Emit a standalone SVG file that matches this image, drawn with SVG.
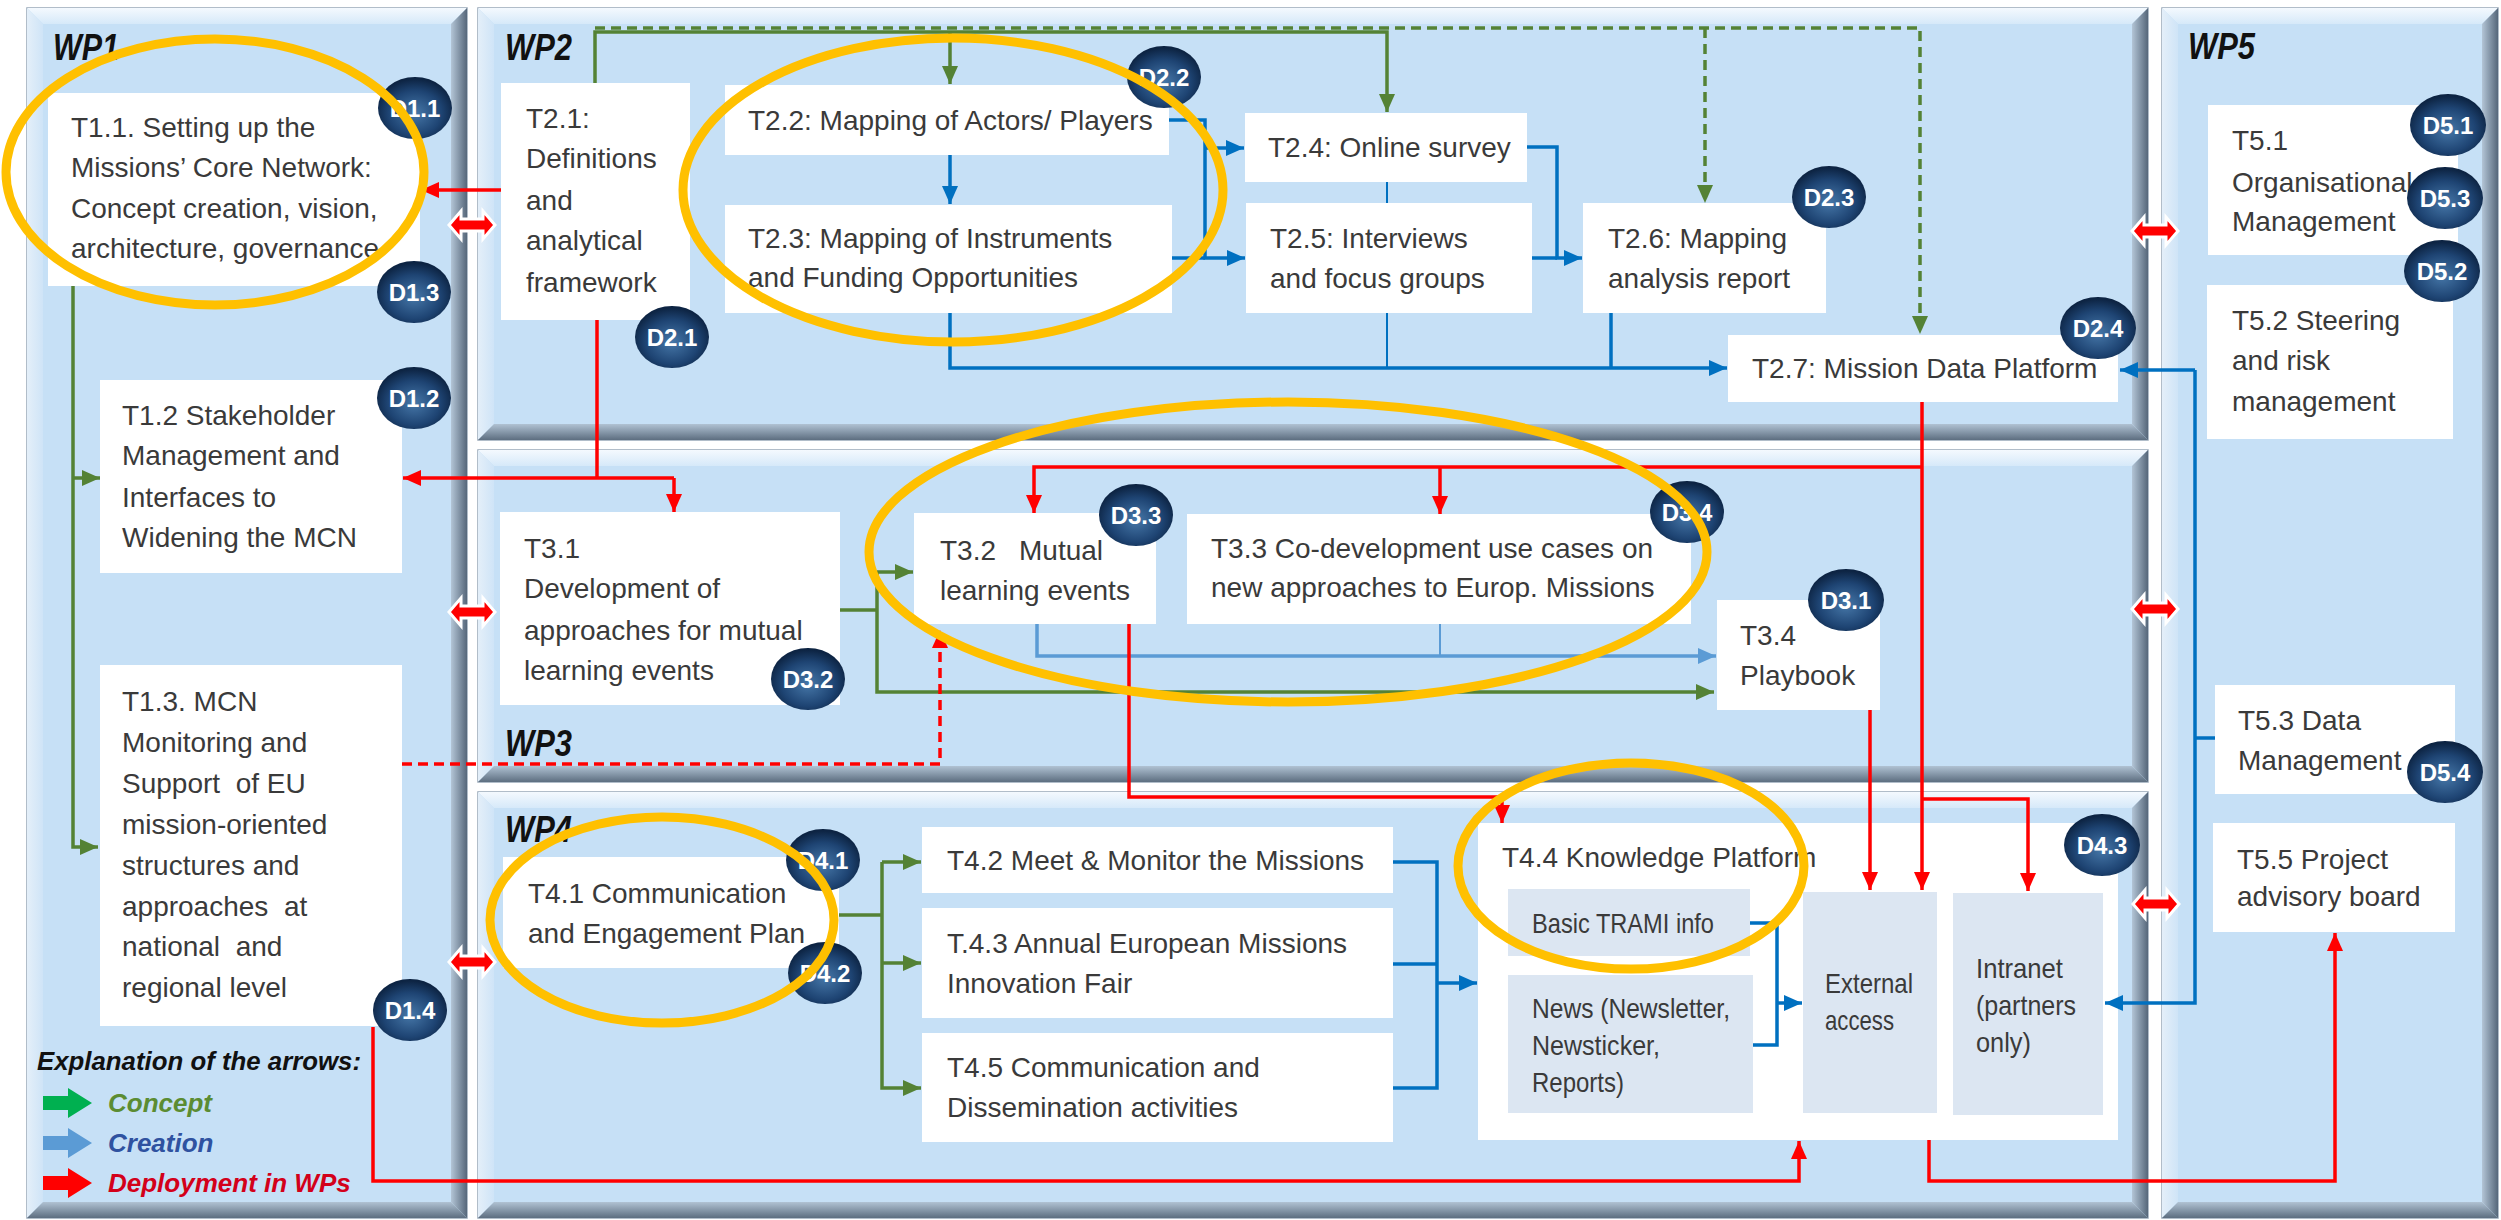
<svg xmlns="http://www.w3.org/2000/svg" width="2501" height="1220" viewBox="0 0 2501 1220">
  <style>
    .base { fill: #C6E0F6; stroke: #98A8B8; stroke-width: 1.5; }
    .bt { fill: url(#bevTop); }
    .bl { fill: url(#bevLeft); }
    .br { fill: url(#bevRight); }
    .bb { fill: url(#bevBottom); }
    .box { fill: #FFFFFF; }
    .sub { fill: #DCE6F2; }
    .t { font-family: "Liberation Sans", Arial, sans-serif; font-size: 28px; fill: #3A3A3A; }
    .wp { font-family: "Liberation Sans", Arial, sans-serif; font-size: 36px; font-weight: bold; font-style: italic; fill: #111111; }
    .lg { font-family: "Liberation Sans", Arial, sans-serif; font-size: 26px; font-weight: bold; font-style: italic; }
    .badge ellipse { fill: url(#badgeGrad); }
    .badge text { font-family: "Liberation Sans", Arial, sans-serif; font-size: 24px; font-weight: bold; fill: #FFFFFF; text-anchor: middle; }
    .g { fill: none; stroke: #548235; stroke-width: 3.5; }
    .b { fill: none; stroke: #0070C0; stroke-width: 3.5; }
    .bthin { fill: none; stroke: #0070C0; stroke-width: 2; }
    .lb { fill: none; stroke: #5B9BD5; stroke-width: 3.5; }
    .lbthin { fill: none; stroke: #5B9BD5; stroke-width: 2; }
    .r { fill: none; stroke: #FF0000; stroke-width: 3.5; }
    .dash { stroke-dasharray: 10 6; }
    .dbl { fill: #FF0000; stroke: #FFFFFF; stroke-width: 3; }
    .hl { fill: none; stroke: #FFC000; stroke-width: 9; }
  </style>
  <defs>
    <linearGradient id="bevTop" x1="0" y1="0" x2="0" y2="1">
      <stop offset="0" stop-color="#F4F9FE"/>
      <stop offset="1" stop-color="#D6E9F9"/>
    </linearGradient>
    <linearGradient id="bevLeft" x1="0" y1="0" x2="1" y2="0">
      <stop offset="0" stop-color="#E4EFF9"/>
      <stop offset="1" stop-color="#CFE4F7"/>
    </linearGradient>
    <linearGradient id="bevRight" x1="0" y1="0" x2="1" y2="0">
      <stop offset="0" stop-color="#B3C5D6"/>
      <stop offset="1" stop-color="#56677A"/>
    </linearGradient>
    <linearGradient id="bevBottom" x1="0" y1="0" x2="0" y2="1">
      <stop offset="0" stop-color="#B0C2D3"/>
      <stop offset="1" stop-color="#5D6E80"/>
    </linearGradient>
    <radialGradient id="badgeGrad" cx="50%" cy="58%" r="55%">
      <stop offset="0" stop-color="#4677A8"/>
      <stop offset="0.65" stop-color="#1E4473"/>
      <stop offset="1" stop-color="#0D2443"/>
    </radialGradient>
    <marker id="mG" markerWidth="18" markerHeight="16" refX="18" refY="8" orient="auto" markerUnits="userSpaceOnUse">
      <path d="M0,0 L18,8 L0,16 z" fill="#548235"/>
    </marker>
    <marker id="mB" markerWidth="18" markerHeight="16" refX="18" refY="8" orient="auto" markerUnits="userSpaceOnUse">
      <path d="M0,0 L18,8 L0,16 z" fill="#0070C0"/>
    </marker>
    <marker id="mLB" markerWidth="18" markerHeight="16" refX="18" refY="8" orient="auto" markerUnits="userSpaceOnUse">
      <path d="M0,0 L18,8 L0,16 z" fill="#5B9BD5"/>
    </marker>
    <marker id="mR" markerWidth="18" markerHeight="16" refX="18" refY="8" orient="auto" markerUnits="userSpaceOnUse">
      <path d="M0,0 L18,8 L0,16 z" fill="#FF0000"/>
    </marker>
  </defs>

  <rect x="0" y="0" width="2501" height="1220" fill="#FFFFFF"/>

  <!-- Work package panels with bevelled frames -->
  <g id="panels">
    <g id="wp1-panel">
      <rect class="base" x="27" y="8" width="440" height="1210"/>
      <polygon class="bt" points="27,8 467,8 451,24 43,24"/>
      <polygon class="bl" points="27,8 43,24 43,1202 27,1218"/>
      <polygon class="br" points="467,8 467,1218 451,1202 451,24"/>
      <polygon class="bb" points="27,1218 467,1218 451,1202 43,1202"/>
    </g>
    <g id="wp2-panel">
      <rect class="base" x="478" y="8" width="1670" height="432"/>
      <polygon class="bt" points="478,8 2148,8 2132,24 494,24"/>
      <polygon class="bl" points="478,8 494,24 494,424 478,440"/>
      <polygon class="br" points="2148,8 2148,440 2132,424 2132,24"/>
      <polygon class="bb" points="478,440 2148,440 2132,424 494,424"/>
    </g>
    <g id="wp3-panel">
      <rect class="base" x="478" y="450" width="1670" height="332"/>
      <polygon class="bt" points="478,450 2148,450 2132,466 494,466"/>
      <polygon class="bl" points="478,450 494,466 494,766 478,782"/>
      <polygon class="br" points="2148,450 2148,782 2132,766 2132,466"/>
      <polygon class="bb" points="478,782 2148,782 2132,766 494,766"/>
    </g>
    <g id="wp4-panel">
      <rect class="base" x="478" y="792" width="1670" height="426"/>
      <polygon class="bt" points="478,792 2148,792 2132,808 494,808"/>
      <polygon class="bl" points="478,792 494,808 494,1202 478,1218"/>
      <polygon class="br" points="2148,792 2148,1218 2132,1202 2132,808"/>
      <polygon class="bb" points="478,1218 2148,1218 2132,1202 494,1202"/>
    </g>
    <g id="wp5-panel">
      <rect class="base" x="2162" y="8" width="336" height="1210"/>
      <polygon class="bt" points="2162,8 2498,8 2482,24 2178,24"/>
      <polygon class="bl" points="2162,8 2178,24 2178,1202 2162,1218"/>
      <polygon class="br" points="2498,8 2498,1218 2482,1202 2482,24"/>
      <polygon class="bb" points="2162,1218 2498,1218 2482,1202 2178,1202"/>
    </g>
    <text class="wp" x="53" y="60" textLength="66" lengthAdjust="spacingAndGlyphs">WP1</text>
    <text class="wp" x="505" y="60" textLength="67" lengthAdjust="spacingAndGlyphs">WP2</text>
    <text class="wp" x="505" y="756" textLength="67" lengthAdjust="spacingAndGlyphs">WP3</text>
    <text class="wp" x="505" y="842" textLength="67" lengthAdjust="spacingAndGlyphs">WP4</text>
    <text class="wp" x="2188" y="59" textLength="67" lengthAdjust="spacingAndGlyphs">WP5</text>
  </g>

  <!-- WP1 tasks -->
  <g id="t1-1">
    <rect class="box" x="48" y="93" width="372" height="193"/>
    <text class="t"><tspan x="71" y="137">T1.1. Setting up the</tspan><tspan x="71" y="177">Missions’ Core Network:</tspan><tspan x="71" y="218">Concept creation, vision,</tspan><tspan x="71" y="258">architecture, governance</tspan></text>
  </g>
  <g id="t1-2">
    <rect class="box" x="100" y="380" width="302" height="193"/>
    <text class="t"><tspan x="122" y="425">T1.2 Stakeholder</tspan><tspan x="122" y="465">Management and</tspan><tspan x="122" y="507">Interfaces to</tspan><tspan x="122" y="547">Widening the MCN</tspan></text>
  </g>
  <g id="t1-3">
    <rect class="box" x="100" y="665" width="302" height="361"/>
    <text class="t" xml:space="preserve"><tspan x="122" y="711">T1.3. MCN</tspan><tspan x="122" y="752">Monitoring and</tspan><tspan x="122" y="793">Support  of EU</tspan><tspan x="122" y="834">mission-oriented</tspan><tspan x="122" y="875">structures and</tspan><tspan x="122" y="916">approaches  at</tspan><tspan x="122" y="956">national  and</tspan><tspan x="122" y="997">regional level</tspan></text>
  </g>

  <!-- Legend -->
  <g id="legend">
    <text class="lg" x="37" y="1070" fill="#111111" font-size="27" textLength="324" lengthAdjust="spacingAndGlyphs">Explanation of the arrows:</text>
    <polygon points="43,1096 68,1096 68,1088 92,1103 68,1118 68,1110 43,1110" fill="#00B050"/>
    <text class="lg" x="108" y="1112" fill="#5B8C32">Concept</text>
    <polygon points="43,1136 68,1136 68,1128 92,1143 68,1158 68,1150 43,1150" fill="#5B9BD5"/>
    <text class="lg" x="108" y="1152" fill="#2F52A0">Creation</text>
    <polygon points="43,1176 68,1176 68,1168 92,1183 68,1198 68,1190 43,1190" fill="#FF0000"/>
    <text class="lg" x="108" y="1192" fill="#D3001A">Deployment in WPs</text>
  </g>

  <!-- WP2 tasks -->
  <g id="t2-1">
    <rect class="box" x="501" y="83" width="189" height="237"/>
    <text class="t"><tspan x="526" y="128">T2.1:</tspan><tspan x="526" y="168">Definitions</tspan><tspan x="526" y="210">and</tspan><tspan x="526" y="250">analytical</tspan><tspan x="526" y="292">framework</tspan></text>
  </g>
  <g id="t2-2">
    <rect class="box" x="725" y="85" width="444" height="70"/>
    <text class="t" x="748" y="130">T2.2: Mapping of Actors/ Players</text>
  </g>
  <g id="t2-3">
    <rect class="box" x="725" y="205" width="447" height="108"/>
    <text class="t"><tspan x="748" y="248">T2.3: Mapping of Instruments</tspan><tspan x="748" y="287">and Funding Opportunities</tspan></text>
  </g>
  <g id="t2-4">
    <rect class="box" x="1245" y="113" width="282" height="69"/>
    <text class="t" x="1268" y="157">T2.4: Online survey</text>
  </g>
  <g id="t2-5">
    <rect class="box" x="1246" y="203" width="286" height="110"/>
    <text class="t"><tspan x="1270" y="248">T2.5: Interviews</tspan><tspan x="1270" y="288">and focus groups</tspan></text>
  </g>
  <g id="t2-6">
    <rect class="box" x="1583" y="203" width="243" height="110"/>
    <text class="t"><tspan x="1608" y="248">T2.6: Mapping</tspan><tspan x="1608" y="288">analysis report</tspan></text>
  </g>
  <g id="t2-7">
    <rect class="box" x="1728" y="335" width="390" height="67"/>
    <text class="t" x="1752" y="378">T2.7: Mission Data Platform</text>
  </g>

  <!-- WP3 tasks -->
  <g id="t3-1">
    <rect class="box" x="500" y="512" width="340" height="193"/>
    <text class="t"><tspan x="524" y="558">T3.1</tspan><tspan x="524" y="598">Development of</tspan><tspan x="524" y="640">approaches for mutual</tspan><tspan x="524" y="680">learning events</tspan></text>
  </g>
  <g id="t3-2">
    <rect class="box" x="914" y="513" width="242" height="111"/>
    <text class="t"><tspan x="940" y="560">T3.2</tspan><tspan x="1019" y="560">Mutual</tspan><tspan x="940" y="600">learning events</tspan></text>
  </g>
  <g id="t3-3">
    <rect class="box" x="1187" y="514" width="504" height="110"/>
    <text class="t"><tspan x="1211" y="558">T3.3 Co-development use cases on</tspan><tspan x="1211" y="597">new approaches to Europ. Missions</tspan></text>
  </g>
  <g id="t3-4">
    <rect class="box" x="1717" y="600" width="163" height="110"/>
    <text class="t"><tspan x="1740" y="645">T3.4</tspan><tspan x="1740" y="685">Playbook</tspan></text>
  </g>

  <!-- WP4 tasks -->
  <g id="t4-1">
    <rect class="box" x="503" y="857" width="336" height="111"/>
    <text class="t"><tspan x="528" y="903">T4.1 Communication</tspan><tspan x="528" y="943">and Engagement Plan</tspan></text>
  </g>
  <g id="t4-2">
    <rect class="box" x="922" y="827" width="471" height="66"/>
    <text class="t" x="947" y="870">T4.2 Meet &amp; Monitor the Missions</text>
  </g>
  <g id="t4-3">
    <rect class="box" x="922" y="908" width="471" height="110"/>
    <text class="t"><tspan x="947" y="953">T.4.3 Annual European Missions</tspan><tspan x="947" y="993">Innovation Fair</tspan></text>
  </g>
  <g id="t4-5">
    <rect class="box" x="922" y="1033" width="471" height="109"/>
    <text class="t"><tspan x="947" y="1077">T4.5 Communication and</tspan><tspan x="947" y="1117">Dissemination activities</tspan></text>
  </g>
  <g id="t4-4">
    <rect class="box" x="1478" y="823" width="640" height="317"/>
    <text class="t" x="1502" y="867">T4.4 Knowledge Platform</text>
    <g id="t4-4-basic">
      <rect class="sub" x="1508" y="889" width="242" height="67"/>
      <text class="t" x="1532" y="933" textLength="182" lengthAdjust="spacingAndGlyphs">Basic TRAMI info</text>
    </g>
    <g id="t4-4-news">
      <rect class="sub" x="1508" y="975" width="245" height="138"/>
      <text class="t"><tspan x="1532" y="1018" textLength="198" lengthAdjust="spacingAndGlyphs">News (Newsletter,</tspan><tspan x="1532" y="1055" textLength="128" lengthAdjust="spacingAndGlyphs">Newsticker,</tspan><tspan x="1532" y="1092" textLength="92" lengthAdjust="spacingAndGlyphs">Reports)</tspan></text>
    </g>
    <g id="t4-4-external">
      <rect class="sub" x="1803" y="892" width="134" height="221"/>
      <text class="t"><tspan x="1825" y="993" textLength="88" lengthAdjust="spacingAndGlyphs">External</tspan><tspan x="1825" y="1030" textLength="69" lengthAdjust="spacingAndGlyphs">access</tspan></text>
    </g>
    <g id="t4-4-intranet">
      <rect class="sub" x="1953" y="893" width="150" height="222"/>
      <text class="t"><tspan x="1976" y="978" textLength="87" lengthAdjust="spacingAndGlyphs">Intranet</tspan><tspan x="1976" y="1015" textLength="100" lengthAdjust="spacingAndGlyphs">(partners</tspan><tspan x="1976" y="1052" textLength="55" lengthAdjust="spacingAndGlyphs">only)</tspan></text>
    </g>
  </g>

  <!-- WP5 tasks -->
  <g id="t5-1">
    <rect class="box" x="2208" y="105" width="250" height="150"/>
    <text class="t"><tspan x="2232" y="150">T5.1</tspan><tspan x="2232" y="192">Organisational</tspan><tspan x="2232" y="231">Management</tspan></text>
  </g>
  <g id="t5-2">
    <rect class="box" x="2207" y="285" width="246" height="154"/>
    <text class="t"><tspan x="2232" y="330">T5.2 Steering</tspan><tspan x="2232" y="370">and risk</tspan><tspan x="2232" y="411">management</tspan></text>
  </g>
  <g id="t5-3">
    <rect class="box" x="2215" y="685" width="240" height="109"/>
    <text class="t"><tspan x="2238" y="730">T5.3 Data</tspan><tspan x="2238" y="770">Management</tspan></text>
  </g>
  <g id="t5-5">
    <rect class="box" x="2213" y="823" width="242" height="109"/>
    <text class="t"><tspan x="2237" y="869">T5.5 Project</tspan><tspan x="2237" y="906">advisory board</tspan></text>
  </g>

  <!-- Connectors -->
  <g id="connectors">
    <!-- concept (green) -->
    <path class="g" d="M73,286 V847 H98" marker-end="url(#mG)"/>
    <path class="g" d="M73,478 H100" marker-end="url(#mG)"/>
    <path class="g" d="M595,83 V32 H1387 V112" marker-end="url(#mG)"/>
    <path class="g" d="M950,32 V84" marker-end="url(#mG)"/>
    <path class="g dash" stroke-width="3" d="M595,28 H1920 V334" marker-end="url(#mG)"/>
    <path class="g dash" stroke-width="3" d="M1705,28 V203" marker-end="url(#mG)"/>
    <path class="g" d="M840,610 H877"/>
    <path class="g" d="M877,572 V692 H1714" marker-end="url(#mG)"/>
    <path class="g" d="M877,572 H913" marker-end="url(#mG)"/>
    <path class="g" d="M839,915 H882"/>
    <path class="g" d="M882,862 V1088 H921" marker-end="url(#mG)"/>
    <path class="g" d="M882,862 H921" marker-end="url(#mG)"/>
    <path class="g" d="M882,963 H921" marker-end="url(#mG)"/>

    <!-- creation (blue) -->
    <path class="b" d="M950,155 V204" marker-end="url(#mB)"/>
    <path class="b" d="M1169,120 H1205 V258 H1245" marker-end="url(#mB)"/>
    <path class="b" d="M1205,148 H1244" marker-end="url(#mB)"/>
    <path class="b" d="M1172,258 H1205"/>
    <path class="bthin" d="M1387,182 V203"/>
    <path class="b" d="M1527,147 H1557 V258 H1582" marker-end="url(#mB)"/>
    <path class="b" d="M1532,258 H1557"/>
    <path class="b" d="M950,313 V368 H1727" marker-end="url(#mB)"/>
    <path class="bthin" d="M1387,313 V368"/>
    <path class="b" d="M1611,313 V368"/>
    <path class="b" d="M2195,370 H2120" marker-end="url(#mB)"/>
    <path class="b" d="M2195,370 V1003 H2105" marker-end="url(#mB)"/>
    <path class="b" d="M2215,738 H2195"/>
    <path class="b" d="M1393,862 H1437 V1088 H1393"/>
    <path class="b" d="M1393,964 H1437"/>
    <path class="b" d="M1437,983 H1477" marker-end="url(#mB)"/>
    <path class="b" d="M1750,923 H1777 V1045 H1753"/>
    <path class="b" d="M1777,1003 H1802" marker-end="url(#mB)"/>
    <path class="lb" d="M1037,624 V656 H1716" marker-end="url(#mLB)"/>
    <path class="lbthin" d="M1440,624 V656"/>

    <!-- deployment (red) -->
    <path class="r" d="M501,190 H421" marker-end="url(#mR)"/>
    <path class="r" d="M597,320 V478"/>
    <path class="r" d="M674,478 H403" marker-end="url(#mR)"/>
    <path class="r" d="M674,478 V512" marker-end="url(#mR)"/>
    <path class="r" d="M1922,402 V890" marker-end="url(#mR)"/>
    <path class="r" d="M1922,467 H1034 V513" marker-end="url(#mR)"/>
    <path class="r" d="M1440,467 V514" marker-end="url(#mR)"/>
    <path class="r" d="M1922,799 H2028 V891" marker-end="url(#mR)"/>
    <path class="r" d="M1870,710 V890" marker-end="url(#mR)"/>
    <path class="r" d="M1129,624 V797 H1502 V823" marker-end="url(#mR)"/>
    <path class="r" d="M373,1027 V1181 H1799 V1141" marker-end="url(#mR)"/>
    <path class="r" d="M1929,1140 V1181 H2335 V933" marker-end="url(#mR)"/>
    <path class="r dash" stroke-width="3" d="M402,764 H940 V630" marker-end="url(#mR)"/>
  </g>

  <!-- Links between work packages -->
  <g id="wp-links">
    <polygon class="dbl" points="449,225 461,211 461,219 483,219 483,211 495,225 483,239 483,231 461,231 461,239"/>
    <polygon class="dbl" points="449,612 461,598 461,606 483,606 483,598 495,612 483,626 483,618 461,618 461,626"/>
    <polygon class="dbl" points="449,962 461,948 461,956 483,956 483,948 495,962 483,976 483,968 461,968 461,976"/>
    <polygon class="dbl" points="2132,231 2144,217 2144,225 2166,225 2166,217 2178,231 2166,245 2166,237 2144,237 2144,245"/>
    <polygon class="dbl" points="2132,609 2144,595 2144,603 2166,603 2166,595 2178,609 2166,623 2166,615 2144,615 2144,623"/>
    <polygon class="dbl" points="2133,904 2145,890 2145,898 2167,898 2167,890 2179,904 2167,918 2167,910 2145,910 2145,918"/>
  </g>

  <!-- Deliverable badges -->
  <g id="d1-1" class="badge"><ellipse cx="415" cy="108" rx="37" ry="31"/><text x="415" y="117">D1.1</text></g>
  <g id="d1-3" class="badge"><ellipse cx="414" cy="292" rx="37" ry="31"/><text x="414" y="301">D1.3</text></g>
  <g id="d1-2" class="badge"><ellipse cx="414" cy="398" rx="37" ry="31"/><text x="414" y="407">D1.2</text></g>
  <g id="d1-4" class="badge"><ellipse cx="410" cy="1010" rx="37" ry="31"/><text x="410" y="1019">D1.4</text></g>
  <g id="d2-1" class="badge"><ellipse cx="672" cy="337" rx="37" ry="31"/><text x="672" y="346">D2.1</text></g>
  <g id="d2-2" class="badge"><ellipse cx="1164" cy="77" rx="37" ry="31"/><text x="1164" y="86">D2.2</text></g>
  <g id="d2-3" class="badge"><ellipse cx="1829" cy="197" rx="37" ry="31"/><text x="1829" y="206">D2.3</text></g>
  <g id="d2-4" class="badge"><ellipse cx="2098" cy="328" rx="38" ry="31"/><text x="2098" y="337">D2.4</text></g>
  <g id="d3-3" class="badge"><ellipse cx="1136" cy="515" rx="37" ry="31"/><text x="1136" y="524">D3.3</text></g>
  <g id="d3-4" class="badge"><ellipse cx="1687" cy="512" rx="37" ry="31"/><text x="1687" y="521">D3.4</text></g>
  <g id="d3-1" class="badge"><ellipse cx="1846" cy="600" rx="38" ry="31"/><text x="1846" y="609">D3.1</text></g>
  <g id="d3-2" class="badge"><ellipse cx="808" cy="679" rx="37" ry="31"/><text x="808" y="688">D3.2</text></g>
  <g id="d4-1" class="badge"><ellipse cx="823" cy="860" rx="37" ry="31"/><text x="823" y="869">D4.1</text></g>
  <g id="d4-2" class="badge"><ellipse cx="825" cy="973" rx="37" ry="31"/><text x="825" y="982">D4.2</text></g>
  <g id="d4-3" class="badge"><ellipse cx="2102" cy="845" rx="38" ry="31"/><text x="2102" y="854">D4.3</text></g>
  <g id="d5-1" class="badge"><ellipse cx="2448" cy="125" rx="38" ry="31"/><text x="2448" y="134">D5.1</text></g>
  <g id="d5-3" class="badge"><ellipse cx="2445" cy="198" rx="38" ry="31"/><text x="2445" y="207">D5.3</text></g>
  <g id="d5-2" class="badge"><ellipse cx="2442" cy="271" rx="38" ry="31"/><text x="2442" y="280">D5.2</text></g>
  <g id="d5-4" class="badge"><ellipse cx="2445" cy="772" rx="38" ry="31"/><text x="2445" y="781">D5.4</text></g>

  <!-- Highlight rings -->
  <g id="highlights">
    <ellipse class="hl" cx="215" cy="172" rx="209" ry="133"/>
    <ellipse class="hl" cx="953" cy="190" rx="270" ry="152"/>
    <ellipse class="hl" cx="1288" cy="552" rx="419" ry="150"/>
    <ellipse class="hl" cx="662" cy="920" rx="172" ry="103"/>
    <ellipse class="hl" cx="1631" cy="866" rx="173" ry="103"/>
  </g>
</svg>
